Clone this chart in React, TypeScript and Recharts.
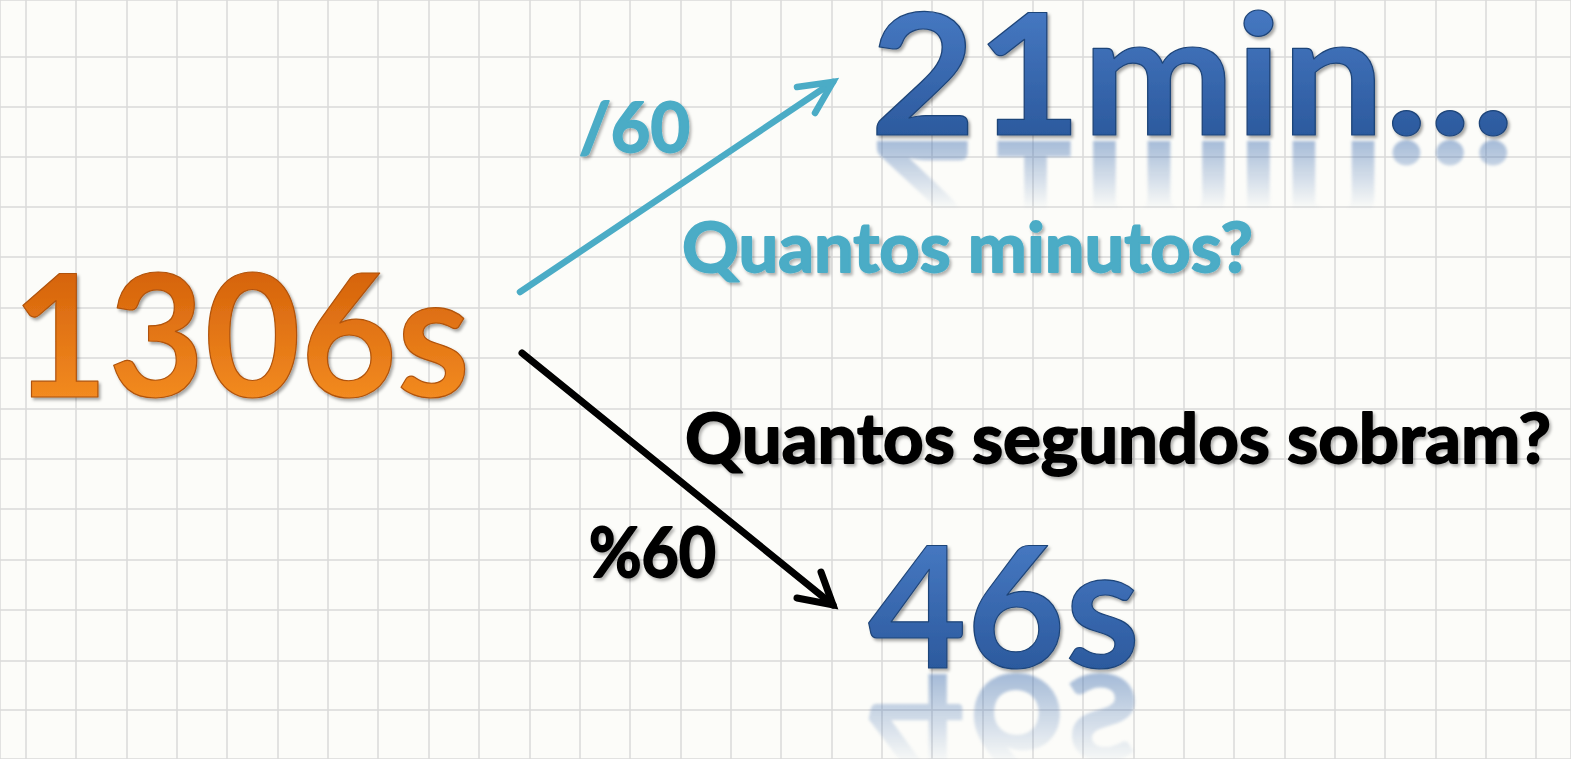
import React from 'react';
import { ComposedChart, Line, Scatter, XAxis, YAxis, CartesianGrid } from 'recharts';

// grid positions
const gridX = [26, 76, 127, 177, 227, 278, 328, 378, 429, 479, 530, 580, 630, 681, 731, 781, 832, 882, 932, 983, 1033, 1083, 1134, 1184, 1234, 1285, 1335, 1385, 1436, 1486, 1536];
const gridY = [6, 57, 107, 157, 207, 257, 308, 358, 409, 459, 509, 560, 610, 661, 710];

// arrows (shaft + open head), slide coordinates
const divShaft = [{ x: 520, y: 292 }, { x: 833, y: 82 }];
const divHead = [{ x: 797, y: 87 }, { x: 833, y: 82 }, { x: 815, y: 113 }];
const modShaft = [{ x: 522, y: 353 }, { x: 833, y: 605 }];
const modHead = [{ x: 797, y: 598 }, { x: 833, y: 605 }, { x: 821, y: 572 }];

// texts: left edge + baseline
const labels = [
  { id: 'total', text: '1306s', x: 12, y: 397 },
  { id: 'minutes', text: '21min...', x: 870, y: 135 },
  { id: 'seconds', text: '46s', x: 868, y: 668 },
  { id: 'qMin', text: 'Quantos minutos?', x: 682, y: 272 },
  { id: 'qSec', text: 'Quantos segundos sobram?', x: 685, y: 463 },
  { id: 'div', text: '/60', x: 579, y: 152 },
  { id: 'mod', text: '%60', x: 589, y: 577 },
];

const TEAL = '#4BACC6';
const FONT = "Lato, 'Open Sans', sans-serif";

const labelStyle: Record<string, any> = {
  total: { size: 170, len: 458, fill: ['#D6640C', '#F28A20'], stroke: '#B05208', reflect: 0 },
  minutes: { size: 168, len: 645, fill: ['#4577C0', '#2C5A9E'], stroke: '#1F4579', reflect: 72 },
  seconds: { size: 168, len: 272, fill: ['#4577C0', '#2C5A9E'], stroke: '#1F4579', reflect: 95 },
  qMin: { size: 68, len: 571, color: TEAL },
  qSec: { size: 68, len: 866, color: '#000' },
  div: { size: 68, len: 111, color: TEAL },
  mod: { size: 68, len: 127, color: '#000' },
};

function LabelShape(props: any) {
  const { cx, cy, payload } = props;
  const s = labelStyle[payload.id];
  const id = payload.id;
  const big = !!s.fill;
  const capTop = cy - s.size * 0.72;
  const common = {
    x: cx,
    y: cy,
    fontFamily: FONT,
    fontWeight: 700,
    fontSize: s.size,
    textLength: s.len,
    lengthAdjust: 'spacingAndGlyphs',
  };
  return (
    <g>
      <defs>
        <filter id={`sh-${id}`} x="-10%" y="-20%" width="120%" height="150%">
          <feDropShadow dx="2" dy="2.5" stdDeviation="1.6" floodColor="#000" floodOpacity={big ? 0.35 : 0.3} />
        </filter>
        {big && (
          <linearGradient id={`gr-${id}`} gradientUnits="userSpaceOnUse" x1="0" y1={capTop} x2="0" y2={cy}>
            <stop offset="0" stopColor={s.fill[0]} />
            <stop offset="1" stopColor={s.fill[1]} />
          </linearGradient>
        )}
        {s.reflect > 0 && (
          <>
            <filter id={`bl-${id}`}>
              <feGaussianBlur stdDeviation="1.5" />
            </filter>
            <linearGradient id={`fade-g-${id}`} x1="0" y1="0" x2="0" y2="1">
              <stop offset="0" stopColor="#fff" stopOpacity={0.5} />
              <stop offset="1" stopColor="#fff" stopOpacity={0} />
            </linearGradient>
            <mask id={`fade-${id}`} maskUnits="userSpaceOnUse" x={cx - 20} y={cy} width={s.len + 40} height={s.reflect + 5}>
              <rect x={cx - 20} y={cy + 3} width={s.len + 40} height={s.reflect} fill={`url(#fade-g-${id})`} />
            </mask>
          </>
        )}
      </defs>
      {s.reflect > 0 && (
        <g mask={`url(#fade-${id})`}>
          <text {...common} transform={`translate(0 ${2 * cy + 6}) scale(1 -1)`} fill="#4A76B4" filter={`url(#bl-${id})`}>
            {payload.text}
          </text>
        </g>
      )}
      <text
        {...common}
        fill={big ? `url(#gr-${id})` : s.color}
        stroke={big ? s.stroke : s.color}
        strokeWidth={big ? 1.2 : 1.8}
        strokeLinejoin="round"
        filter={`url(#sh-${id})`}
      >
        {payload.text}
      </text>
    </g>
  );
}

export default function App() {
  return (
    <div style={{ position: 'absolute', left: 0, top: 0, width: 1571, height: 759, background: '#FCFCF9' }}>
      <ComposedChart width={1571} height={759} margin={{ top: 0, right: 0, bottom: 0, left: 0 }}>
        <XAxis type="number" dataKey="x" domain={[0, 1571]} ticks={gridX} hide allowDataOverflow />
        <YAxis type="number" dataKey="y" domain={[0, 759]} ticks={gridY} reversed hide allowDataOverflow />
        <CartesianGrid stroke="#DADAD8" strokeWidth={1.5} />
        <Line data={divShaft} dataKey="y" type="linear" stroke={TEAL} strokeWidth={6.5} strokeLinecap="round" dot={false} isAnimationActive={false} />
        <Line data={divHead} dataKey="y" type="linear" stroke={TEAL} strokeWidth={6.5} strokeLinecap="round" strokeLinejoin="miter" dot={false} isAnimationActive={false} />
        <Line data={modShaft} dataKey="y" type="linear" stroke="#000" strokeWidth={7} strokeLinecap="round" dot={false} isAnimationActive={false} />
        <Line data={modHead} dataKey="y" type="linear" stroke="#000" strokeWidth={7} strokeLinecap="round" strokeLinejoin="miter" dot={false} isAnimationActive={false} />
        <Scatter data={labels} dataKey="y" shape={LabelShape} isAnimationActive={false} />
      </ComposedChart>
    </div>
  );
}
